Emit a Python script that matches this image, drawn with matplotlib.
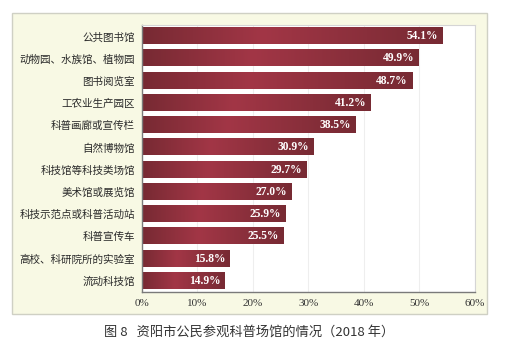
import matplotlib.pyplot as plt
import numpy as np
from matplotlib.colors import LinearSegmentedColormap
from matplotlib.patches import Rectangle

categories = ["公共图书馆", "动物园、水族馆、植物园", "图书阅览室", "工农业生产园区",
              "科普画廊或宣传栏", "自然博物馆", "科技馆等科技类场馆", "美术馆或展览馆",
              "科技示范点或科普活动站", "科普宣传车", "高校、科研院所的实验室", "流动科技馆"]
values = [54.1, 49.9, 48.7, 41.2, 38.5, 30.9, 29.7, 27.0, 25.9, 25.5, 15.8, 14.9]
xticks = [0, 10, 20, 30, 40, 50, 60]
caption = "图 8   资阳市公民参观科普场馆的情况（2018 年）"

cjk = ["Noto Sans CJK SC", "DejaVu Sans"]
serif = ["Liberation Serif", "DejaVu Serif"]

fig = plt.figure(figsize=(5.06, 3.48), dpi=100)
W, H = 506, 348

# cream panel behind the chart
panel = Rectangle((12 / W, 1 - 314 / H), (487 - 12) / W, (314 - 13) / H,
                  transform=fig.transFigure, facecolor="#f8f9e4",
                  edgecolor="#cfd0c4", linewidth=1.0, zorder=-1)
fig.patches.append(panel)

ax = fig.add_axes([142 / W, 1 - 292 / H, (475 - 142) / W, (292 - 25) / H])
ax.set_facecolor("white")

n = len(categories)
y = np.arange(n)
bh = 0.72
bars = ax.barh(y, values, height=bh, color="none", zorder=2)

cmap = LinearSegmentedColormap.from_list(
    "bar", [(0, "#772a33"), (0.4, "#a23646"), (1, "#772a33")])
grad = np.linspace(0, 1, 256).reshape(1, -1)
for b, v in zip(bars, values):
    x0, y0 = b.get_x(), b.get_y()
    ax.imshow(grad, cmap=cmap, aspect="auto", extent=(0, v, y0, y0 + bh),
              zorder=2, interpolation="bilinear")
    ax.text(v - 0.8, y0 + bh / 2, f"{v:.1f}%", ha="right", va="center",
            color="white", fontsize=8.3, fontweight="bold", family=serif, zorder=3)

ax.set_xlim(0, 60)
ax.set_ylim(n - 0.5, -0.5)
ax.set_xticks(xticks)
ax.set_xticklabels([f"{t}%" for t in xticks], family=serif, fontsize=8, color="#333333")
ax.set_yticks(y)
ax.set_yticklabels(categories, family=cjk, fontsize=7.6, color="#2a2a2a")
ax.tick_params(length=0, pad=5)
ax.grid(axis="x", color="#eeeeee", linewidth=0.8, zorder=0)
ax.set_axisbelow(True)
for s in ["top", "right"]:
    ax.spines[s].set_color("#d5d5d5")
    ax.spines[s].set_linewidth(0.8)
for s in ["left", "bottom"]:
    ax.spines[s].set_color("#7a7a7a")
    ax.spines[s].set_linewidth(1.0)

fig.text(249 / W, 1 - 332 / H, caption, ha="center", va="center",
         family=cjk, fontsize=9.5, color="#333333")

fig.savefig("out.png", dpi=100)
